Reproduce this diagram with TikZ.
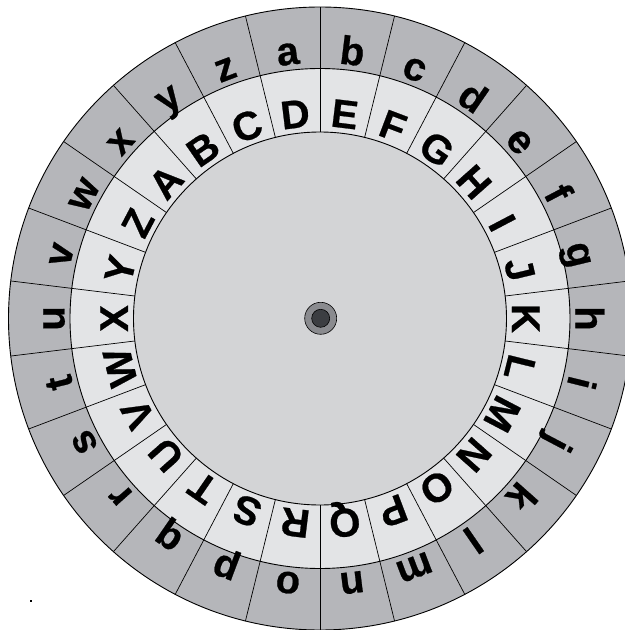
\documentclass[tikz,border=0pt]{standalone}
\usepackage{fontspec}
\setmainfont{Liberation Sans}
\newfontfamily\wheelfont{Liberation Sans Bold}[FakeBold=0.6]
\definecolor{outerring}{RGB}{181,182,186}
\definecolor{innerring}{RGB}{227,228,230}
\definecolor{centerdisk}{RGB}{211,212,214}
\definecolor{hubouter}{RGB}{138,139,143}
\definecolor{hubinner}{RGB}{60,62,66}
\tikzset{
  ringline/.style={draw=black, line width=0.9pt},
  divider/.style={draw=black, line width=0.7pt},
  letter/.style={inner sep=0pt, font=\fontsize{40}{44}\selectfont\wheelfont, anchor=base}
}
\begin{document}
\begin{tikzpicture}[x=1pt,y=1pt]
\useasboundingbox (-320,-311.5) rectangle (305,318.5);
\clip (-320,-311.5) rectangle (305,318.5);
\fill[white] (-320,-311.5) rectangle (305,318.5);
\draw[ringline, fill=outerring] (0,0) circle (311.5);
\draw[ringline, fill=innerring] (0,0) circle (250);
\draw[ringline, fill=centerdisk] (0,0) circle (186.5);
\foreach \k in {0,...,25} {
  \draw[divider] (90+\k*360/26:186.5) -- (90+\k*360/26:311.5);
}
\foreach \l [count=\i from 0] in {a,...,z} {
  \pgfmathsetmacro\ang{90+360/52-\i*360/26}
  \node[letter, rotate=\ang-90] (lo-\l) at (\ang:255.5) {\l};
}
\foreach \L [count=\i from 0] in {A,...,Z} {
  \pgfmathsetmacro\ang{90+360/52+3*360/26-\i*360/26}
  \node[letter, rotate=\ang-90] (up-\L) at (\ang:192) {\L};
}
\draw[black, line width=0.6pt, fill=hubouter] (0.7,0.2) circle (16);
\draw[black, line width=0.6pt, fill=hubinner] (0.7,0.2) circle (9);
\fill[black] (-290.3,-283.2) rectangle (-288.3,-281.2);
\end{tikzpicture}
\end{document}
